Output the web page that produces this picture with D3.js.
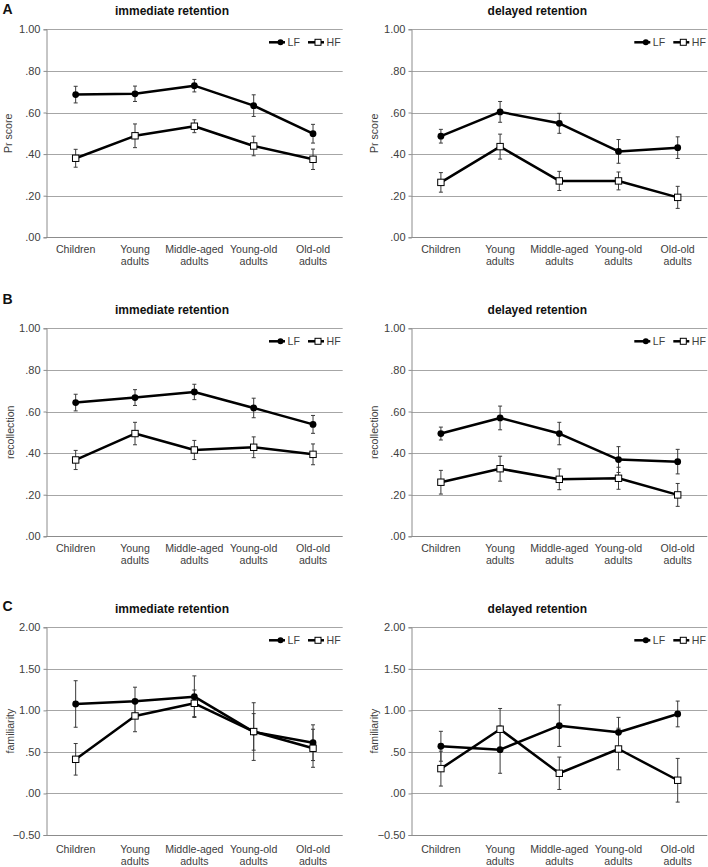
<!DOCTYPE html>
<html>
<head>
<meta charset="utf-8">
<script src="https://cdn.jsdelivr.net/npm/d3@7"></script>
<style>
  html, body { margin: 0; padding: 0; background: #fff; }
  svg { display: block; font-family: "Liberation Sans", Arial, sans-serif; }
</style>
</head>
<body>
<svg id="chart" width="708" height="867"></svg>
<script>
// ---------- data ----------
const categories = ["Children", "Young\nadults", "Middle-aged\nadults", "Young-old\nadults", "Old-old\nadults"];
const seriesNames = ["LF", "HF"];
const panelLetters = ["A", "B", "C"];
const panelTitles = ["immediate retention", "delayed retention"];
const yLabels = ["Pr score", "recollection", "familiarity"];

const yTicksProb = [0, 0.2, 0.4, 0.6, 0.8, 1.0];
const yTicksFam = [-0.5, 0, 0.5, 1.0, 1.5, 2.0];

// A: Pr score
const prImmLF = [0.686, 0.690, 0.729, 0.633, 0.498];
const prImmLFerr = [0.040, 0.037, 0.030, 0.052, 0.045];
const prImmHF = [0.380, 0.488, 0.534, 0.439, 0.375];
const prImmHFerr = [0.043, 0.057, 0.031, 0.047, 0.049];
const prDelLF = [0.486, 0.603, 0.548, 0.413, 0.431];
const prDelLFerr = [0.033, 0.050, 0.048, 0.057, 0.052];
const prDelHF = [0.264, 0.436, 0.271, 0.271, 0.192];
const prDelHFerr = [0.047, 0.060, 0.046, 0.043, 0.053];
// B: recollection
const recImmLF = [0.643, 0.667, 0.694, 0.617, 0.538];
const recImmLFerr = [0.040, 0.038, 0.037, 0.047, 0.043];
const recImmHF = [0.367, 0.494, 0.415, 0.428, 0.394];
const recImmHFerr = [0.046, 0.054, 0.046, 0.050, 0.050];
const recDelLF = [0.494, 0.569, 0.494, 0.369, 0.359];
const recDelLFerr = [0.031, 0.057, 0.054, 0.062, 0.059];
const recDelHF = [0.260, 0.325, 0.274, 0.279, 0.199];
const recDelHFerr = [0.057, 0.060, 0.050, 0.053, 0.055];
// C: familiarity
const famImmLF = [1.077, 1.109, 1.165, 0.741, 0.611];
const famImmLFerr = [0.280, 0.170, 0.250, 0.220, 0.215];
const famImmHF = [0.411, 0.933, 1.085, 0.745, 0.544];
const famImmHFerr = [0.190, 0.190, 0.160, 0.347, 0.229];
const famDelLF = [0.568, 0.527, 0.816, 0.736, 0.957];
const famDelLFerr = [0.180, 0.284, 0.250, 0.180, 0.155];
const famDelHF = [0.299, 0.773, 0.243, 0.535, 0.159];
const famDelHFerr = [0.210, 0.250, 0.195, 0.250, 0.263];

// ---------- layout ----------
const colX = [[46, 342.7], [411.3, 707.3]];
const rowY = [[29.3, 237.3], [328.3, 536.3], [627.3, 835]];
const letterBaseline = [14, 304, 611];
const yLabelX = [[8.5, 374.3], [10, 374.7], [10, 374.7]];
const labelOffset = [16, 16, 17.5];

const panels = [
  { row: 0, col: 0, ticks: yTicksProb, lf: prImmLF, lfE: prImmLFerr, hf: prImmHF, hfE: prImmHFerr },
  { row: 0, col: 1, ticks: yTicksProb, lf: prDelLF, lfE: prDelLFerr, hf: prDelHF, hfE: prDelHFerr },
  { row: 1, col: 0, ticks: yTicksProb, lf: recImmLF, lfE: recImmLFerr, hf: recImmHF, hfE: recImmHFerr },
  { row: 1, col: 1, ticks: yTicksProb, lf: recDelLF, lfE: recDelLFerr, hf: recDelHF, hfE: recDelHFerr },
  { row: 2, col: 0, ticks: yTicksFam, lf: famImmLF, lfE: famImmLFerr, hf: famImmHF, hfE: famImmHFerr },
  { row: 2, col: 1, ticks: yTicksFam, lf: famDelLF, lfE: famDelLFerr, hf: famDelHF, hfE: famDelHFerr }
];

const gridColor = "#a6a6a6";
const axisColor = "#8c8c8c";
const textColor = "#404040";
const fmt = v => {
  const s = d3.format(".2f")(v);
  return s.replace(/^(-?)0\./, "$1.");
};

const svg = d3.select("#chart");

panels.forEach(p => {
  const [x0, x1] = colX[p.col];
  const [y0, y1] = rowY[p.row];
  const x = d3.scaleBand().domain(categories).range([x0, x1]);
  const y = d3.scaleLinear().domain(d3.extent(p.ticks)).range([y1, y0]);
  const cx = c => x(c) + x.bandwidth() / 2;
  const g = svg.append("g");

  // gridlines
  g.append("g").selectAll("line").data(p.ticks.slice(1)).join("line")
    .attr("x1", x0).attr("x2", x1)
    .attr("y1", d => Math.round(y(d)) + 0.5).attr("y2", d => Math.round(y(d)) + 0.5)
    .attr("stroke", gridColor).attr("stroke-width", 1);

  // y axis
  const yAxis = d3.axisLeft(y).tickValues(p.ticks).tickFormat(fmt).tickSize(3).tickPadding(3);
  const ya = g.append("g").attr("transform", `translate(${Math.round(x0) + 0.5},0)`).call(yAxis);
  ya.select(".domain").attr("stroke", axisColor);
  ya.selectAll(".tick line").attr("stroke", axisColor);
  ya.selectAll(".tick text").attr("fill", textColor).style("font-size", "11px")
    .style("font-family", '"Liberation Sans", Arial, sans-serif');

  // x axis line
  g.append("line").attr("x1", x0).attr("x2", x1)
    .attr("y1", Math.round(y1) + 0.5).attr("y2", Math.round(y1) + 0.5)
    .attr("stroke", axisColor).attr("stroke-width", 1);

  // x labels
  const xl = g.append("g").selectAll("text").data(categories).join("text")
    .attr("text-anchor", "middle").attr("fill", textColor).style("font-size", "10.6px")
    .attr("x", d => cx(d)).attr("y", y1 + labelOffset[p.row]);
  xl.selectAll("tspan").data(d => d.split("\n")).join("tspan")
    .attr("x", function () { return d3.select(this.parentNode).attr("x"); })
    .attr("dy", (d, i) => i === 0 ? 0 : 12)
    .text(d => d);

  // title
  g.append("text").attr("x", x0 + 126).attr("y", y0 - 14.3).attr("text-anchor", "middle")
    .style("font-size", "12px").style("font-weight", "bold").attr("fill", "#111")
    .text(panelTitles[p.col]);

  // y label
  const lx = yLabelX[p.row][p.col];
  g.append("text").attr("transform", `translate(${lx},${(y0 + y1) / 2}) rotate(-90)`)
    .attr("text-anchor", "middle").attr("dy", "0.35em")
    .style("font-size", "10.6px").attr("fill", textColor).text(yLabels[p.row]);

  // panel letter
  if (p.col === 0) {
    svg.append("text").attr("x", 2.5).attr("y", letterBaseline[p.row])
      .style("font-size", "14px").style("font-weight", "bold").attr("fill", "#111")
      .text(panelLetters[p.row]);
  }

  const series = [
    { name: "LF", v: p.lf, e: p.lfE },
    { name: "HF", v: p.hf, e: p.hfE }
  ];

  // error bars
  series.forEach(s => {
    const eb = g.append("g").attr("stroke", "#3a3a3a").attr("stroke-width", 1);
    categories.forEach((c, i) => {
      const xc = cx(c);
      const top = y(s.v[i] + s.e[i]), bot = y(s.v[i] - s.e[i]);
      eb.append("line").attr("x1", xc).attr("x2", xc).attr("y1", top).attr("y2", bot);
      eb.append("line").attr("x1", xc - 2).attr("x2", xc + 2).attr("y1", top).attr("y2", top);
      eb.append("line").attr("x1", xc - 2).attr("x2", xc + 2).attr("y1", bot).attr("y2", bot);
    });
  });

  // lines + markers
  const line = d3.line().x((d, i) => cx(categories[i])).y(d => y(d));
  series.forEach(s => {
    g.append("path").datum(s.v).attr("d", line)
      .attr("fill", "none").attr("stroke", "#000").attr("stroke-width", 2.5)
      .attr("stroke-linejoin", "round");
  });
  series.forEach(s => {
    const mg = g.append("g");
    if (s.name === "LF") {
      mg.selectAll("circle").data(s.v).join("circle")
        .attr("cx", (d, i) => cx(categories[i])).attr("cy", d => y(d)).attr("r", 3.4)
        .attr("fill", "#000");
    } else {
      mg.selectAll("rect").data(s.v).join("rect")
        .attr("x", (d, i) => cx(categories[i]) - 3.2).attr("y", d => y(d) - 3.2)
        .attr("width", 6.4).attr("height", 6.4)
        .attr("fill", "#fff").attr("stroke", "#000").attr("stroke-width", 1);
    }
  });

  // legend
  const lgx = x0 + 223, lgy = y0 + 13;
  const lg = g.append("g").attr("transform", `translate(${lgx},${lgy})`);
  lg.append("line").attr("x1", 0).attr("x2", 16).attr("y1", 0).attr("y2", 0)
    .attr("stroke", "#000").attr("stroke-width", 2.5);
  lg.append("circle").attr("cx", 11.5).attr("cy", 0).attr("r", 3).attr("fill", "#000");
  lg.append("text").attr("x", 18.5).attr("y", 0).attr("dy", "0.36em")
    .style("font-size", "10.6px").attr("fill", textColor).text(seriesNames[0]);
  lg.append("line").attr("x1", 39).attr("x2", 55).attr("y1", 0).attr("y2", 0)
    .attr("stroke", "#000").attr("stroke-width", 2.5);
  lg.append("rect").attr("x", 49 - 3).attr("y", -3).attr("width", 6).attr("height", 6)
    .attr("fill", "#fff").attr("stroke", "#000").attr("stroke-width", 1);
  lg.append("text").attr("x", 57.5).attr("y", 0).attr("dy", "0.36em")
    .style("font-size", "10.6px").attr("fill", textColor).text(seriesNames[1]);
});
</script>
</body>
</html>
